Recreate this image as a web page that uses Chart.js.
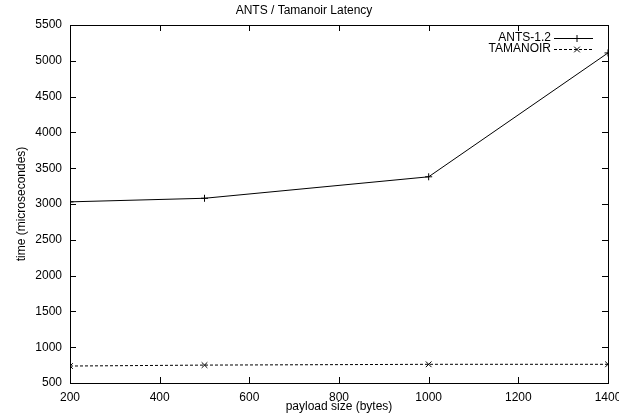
<!DOCTYPE html>
<html>
<head>
<meta charset="utf-8">
<script src="https://cdn.jsdelivr.net/npm/chart.js@4"></script>
<style>
  html, body { margin: 0; padding: 0; background: #fff; }
  #wrap { width: 619px; height: 415px; }
</style>
</head>
<body>
<div id="wrap"><canvas id="latency"></canvas></div>
<script>
// values
const payloadSizes = [200, 500, 1000, 1400];
const antsLatency = [3030, 3080, 3380, 5110];
const tamanoirLatency = [737, 750, 761, 761];

const xTicks = [200, 400, 600, 800, 1000, 1200, 1400];
const yTicks = [500, 1000, 1500, 2000, 2500, 3000, 3500, 4000, 4500, 5000, 5500];

const FONT = 'Liberation Sans, Arial, Helvetica, sans-serif';

const toPoints = (xs, ys) => xs.map((x, i) => ({ x: x, y: ys[i] }));

// gnuplot look: box frame, ticks inside on all sides, key in top right
const gnuplotFrame = {
  id: 'gnuplotFrame',
  afterDraw(chart) {
    const ctx = chart.ctx;
    const a = chart.chartArea;
    const xs = chart.scales.x, ys = chart.scales.y;
    const tl = 6;
    ctx.save();
    ctx.strokeStyle = '#000';
    ctx.lineWidth = 1;
    ctx.setLineDash([]);
    ctx.beginPath();
    xTicks.forEach(v => {
      const px = Math.round(xs.getPixelForValue(v)) + 0.5;
      ctx.moveTo(px, a.bottom); ctx.lineTo(px, a.bottom - tl);
      ctx.moveTo(px, a.top); ctx.lineTo(px, a.top + tl);
    });
    yTicks.forEach(v => {
      const py = Math.round(ys.getPixelForValue(v)) + 0.5;
      ctx.moveTo(a.left, py); ctx.lineTo(a.left + tl, py);
      ctx.moveTo(a.right, py); ctx.lineTo(a.right - tl, py);
    });
    ctx.stroke();
    ctx.strokeRect(Math.round(a.left) + 0.5, Math.round(a.top) + 0.5,
      Math.round(a.right - a.left), Math.round(a.bottom - a.top));

    // key
    ctx.font = '12px ' + FONT;
    ctx.fillStyle = '#000';
    ctx.textAlign = 'right';
    ctx.textBaseline = 'middle';
    chart.data.datasets.forEach((ds, i) => {
      const y = a.top + 12.5 + i * 11.5;
      ctx.fillText(ds.label, a.right - 57, y);
      ctx.beginPath();
      ctx.setLineDash(ds.borderDash || []);
      ctx.moveTo(a.right - 54, Math.round(y) + 0.5);
      ctx.lineTo(a.right - 15, Math.round(y) + 0.5);
      ctx.stroke();
      ctx.setLineDash([]);
      Chart.helpers.drawPoint(ctx, {
        pointStyle: ds.pointStyle, radius: ds.pointRadius, borderWidth: 1
      }, a.right - 31, Math.round(y) + 0.5);
    });
    ctx.restore();
  }
};

new Chart(document.getElementById('latency'), {
  type: 'scatter',
  data: {
    datasets: [
      {
        label: 'ANTS-1.2',
        data: toPoints(payloadSizes, antsLatency),
        showLine: true,
        borderColor: '#000',
        backgroundColor: '#000',
        borderWidth: 1,
        pointStyle: 'cross',
        pointRadius: 3.5,
        pointBorderWidth: 1
      },
      {
        label: 'TAMANOIR',
        data: toPoints(payloadSizes, tamanoirLatency),
        showLine: true,
        borderColor: '#000',
        backgroundColor: '#000',
        borderWidth: 1,
        borderDash: [3, 2],
        pointStyle: 'crossRot',
        pointRadius: 4,
        pointBorderWidth: 1
      }
    ]
  },
  options: {
    responsive: true,
    maintainAspectRatio: false,
    animation: false,
    layout: { padding: { right: 11 } },
    plugins: {
      legend: { display: false },
      tooltip: { enabled: false },
      title: {
        display: true,
        text: 'ANTS / Tamanoir Latency',
        color: '#000',
        font: { family: FONT, size: 12, weight: 'normal' },
        padding: { top: 3, bottom: 7.6 }
      }
    },
    scales: {
      x: {
        type: 'linear',
        min: xTicks[0],
        max: xTicks[xTicks.length - 1],
        border: { display: false },
        grid: { display: false, drawTicks: false },
        ticks: {
          stepSize: xTicks[1] - xTicks[0],
          color: '#000',
          padding: 7,
          font: { family: FONT, size: 12 },
          maxRotation: 0,
          callback: v => String(v)
        },
        title: {
          display: true,
          text: 'payload size (bytes)',
          color: '#000',
          font: { family: FONT, size: 12 },
          padding: { top: 0, bottom: 1 }
        },
        afterFit(scale) {
          scale.height = 32;
          scale.paddingLeft = 0;
          scale.paddingRight = 0;
        }
      },
      y: {
        min: yTicks[0],
        max: yTicks[yTicks.length - 1],
        border: { display: false },
        grid: { display: false, drawTicks: false },
        ticks: {
          stepSize: yTicks[1] - yTicks[0],
          color: '#000',
          padding: 8,
          font: { family: FONT, size: 12 },
          callback: v => String(v)
        },
        title: {
          display: true,
          text: 'time (microsecondes)',
          color: '#000',
          font: { family: FONT, size: 12 },
          padding: { top: 14, bottom: 0 }
        },
        afterFit(scale) {
          scale.width = 70;
        }
      }
    }
  },
  plugins: [gnuplotFrame]
});
</script>
</body>
</html>
